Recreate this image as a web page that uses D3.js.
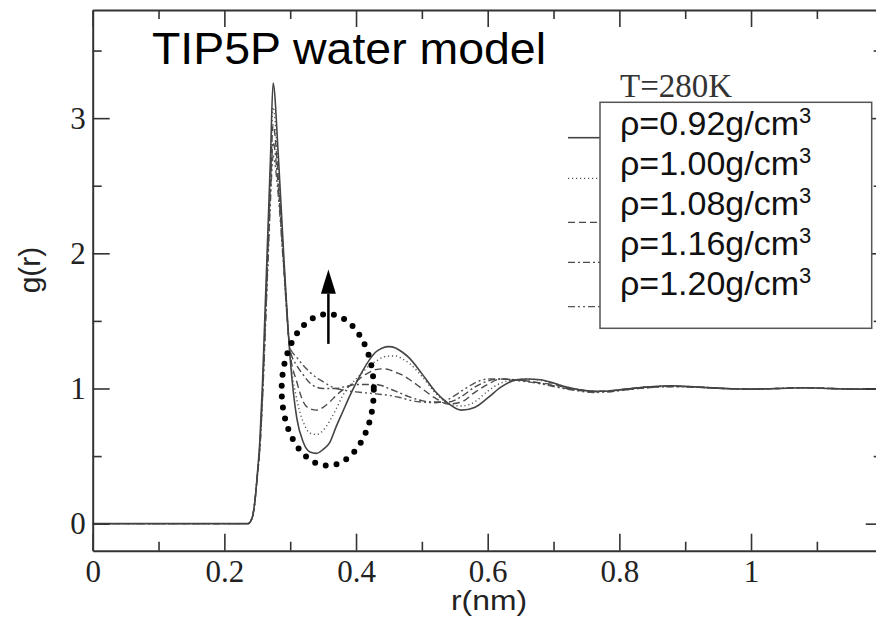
<!DOCTYPE html>
<html>
<head>
<meta charset="utf-8">
<script src="https://cdn.jsdelivr.net/npm/d3@7"></script>
<style>
  html, body { margin: 0; padding: 0; background: #fff; }
  svg { display: block; }
</style>
</head>
<body>
<div id="chart"></div>
<script>
// r (nm) sample positions shared by all curves
const rGrid = [0, 0.236, 0.242, 0.246, 0.25, 0.254, 0.258, 0.262, 0.266, 0.27, 0.274, 0.282, 0.29,
  0.30, 0.31, 0.32, 0.33, 0.34, 0.35, 0.36, 0.37, 0.38, 0.39, 0.40, 0.41, 0.42, 0.43, 0.44, 0.45,
  0.46, 0.47, 0.48, 0.50, 0.52, 0.54, 0.56, 0.58, 0.60, 0.62, 0.64, 0.66, 0.68, 0.70, 0.72, 0.74,
  0.76, 0.78, 0.80, 0.84, 0.88, 0.92, 0.96, 1.00, 1.04, 1.08, 1.12, 1.16, 1.20];

// g(r) for each density
const g092 = [0, 0, 0.04, 0.15, 0.36, 0.62, 1.05, 1.6, 2.15, 2.7, 3.26, 2.72, 2.0,
  1.22, 0.78, 0.6, 0.53, 0.52, 0.55, 0.6, 0.72, 0.83, 0.94, 1.04, 1.13, 1.21, 1.27, 1.3, 1.31,
  1.3, 1.27, 1.23, 1.11, 0.98, 0.89, 0.84, 0.86, 0.93, 1.01, 1.06, 1.07, 1.065, 1.04, 1.01, 0.99,
  0.98, 0.98, 0.99, 1.01, 1.02, 1.01, 1.0, 0.995, 1.0, 1.005, 1.0, 0.995, 1.0];
const g100 = [0, 0, 0.04, 0.15, 0.36, 0.6, 1.0, 1.52, 2.06, 2.6, 3.08, 2.62, 1.97,
  1.24, 0.92, 0.75, 0.67, 0.66, 0.69, 0.76, 0.85, 0.95, 1.02, 1.07, 1.12, 1.17, 1.2, 1.23, 1.24,
  1.24, 1.22, 1.19, 1.09, 0.97, 0.89, 0.87, 0.9, 0.98, 1.04, 1.065, 1.07, 1.06, 1.04, 1.01, 0.99,
  0.98, 0.98, 0.99, 1.01, 1.02, 1.01, 1.0, 0.995, 1.0, 1.005, 1.0, 0.995, 1.0];
const g108 = [0, 0, 0.04, 0.15, 0.35, 0.58, 0.97, 1.48, 2.0, 2.52, 2.95, 2.55, 1.94,
  1.26, 1.05, 0.9, 0.85, 0.84, 0.86, 0.9, 0.95, 0.99, 1.02, 1.05, 1.09, 1.12, 1.14, 1.145, 1.14,
  1.12, 1.1, 1.07, 1.0, 0.93, 0.885, 0.9, 0.97, 1.03, 1.07, 1.065, 1.055, 1.04, 1.03, 1.005, 0.99,
  0.98, 0.98, 0.99, 1.01, 1.015, 1.01, 1.0, 0.995, 1.0, 1.005, 1.0, 0.995, 1.0];
const g116 = [0, 0, 0.04, 0.15, 0.35, 0.57, 0.95, 1.44, 1.95, 2.45, 2.82, 2.48, 1.92,
  1.28, 1.17, 1.1, 1.04, 1.01, 1.0, 1.0, 1.0, 1.01, 1.02, 1.03, 1.03, 1.03, 1.03, 1.02, 1.0,
  0.98, 0.96, 0.94, 0.91, 0.9, 0.9, 0.94, 1.01, 1.055, 1.07, 1.065, 1.055, 1.04, 1.02, 1.0, 0.985,
  0.975, 0.975, 0.985, 1.005, 1.015, 1.01, 1.0, 0.995, 1.0, 1.005, 1.0, 0.995, 1.0];
const g120 = [0, 0, 0.04, 0.15, 0.35, 0.56, 0.93, 1.4, 1.9, 2.38, 2.72, 2.42, 1.9,
  1.3, 1.23, 1.17, 1.12, 1.08, 1.05, 1.02, 1.0, 0.99, 0.98, 0.975, 0.97, 0.965, 0.96, 0.955, 0.95,
  0.94, 0.93, 0.915, 0.9, 0.895, 0.92, 0.98, 1.04, 1.07, 1.07, 1.06, 1.05, 1.035, 1.015, 0.995, 0.98,
  0.97, 0.975, 0.985, 1.005, 1.015, 1.01, 1.0, 0.995, 1.0, 1.005, 1.0, 0.995, 1.0];

const seriesNames = ["ρ=0.92g/cm", "ρ=1.00g/cm", "ρ=1.08g/cm", "ρ=1.16g/cm", "ρ=1.20g/cm"];
const seriesValues = [g092, g100, g108, g116, g120];

const xTicks = [0, 0.2, 0.4, 0.6, 0.8, 1];
const xTickLabels = ["0", "0.2", "0.4", "0.6", "0.8", "1"];
const xMinorTicks = [0.1, 0.3, 0.5, 0.7, 0.9, 1.1];
const yTicks = [0, 1, 2, 3];
const yTickLabels = ["0", "1", "2", "3"];
const yMinorTicks = [0.5, 1.5, 2.5, 3.5];

const W = 876, H = 618;
const plotLeft = 92.7, plotRight = 882.7, plotTop = 10, plotBottom = 550.7;

const svg = d3.select("#chart").append("svg")
  .attr("width", W).attr("height", H);

const x = d3.scaleLinear().domain([0, 1.2]).range([plotLeft, plotRight]);
const y = d3.scaleLinear().domain([-0.2, 3.8]).range([plotBottom, plotTop]);

const dashes = [null, "1.2,2.8", "7,4", "7,3,2,3", "7,3,2,3,2,3"];
const strokes = ["#444", "#555", "#4a4a4a", "#4a4a4a", "#555"];

// curves
const line = d3.line()
  .x((d, i) => x(rGrid[i]))
  .y(d => y(d))
  .curve(d3.curveMonotoneX);

svg.append("clipPath").attr("id", "clip")
  .append("rect").attr("x", plotLeft).attr("y", plotTop)
  .attr("width", plotRight - plotLeft).attr("height", plotBottom - plotTop);

const plot = svg.append("g").attr("clip-path", "url(#clip)");
for (let i = seriesValues.length - 1; i >= 0; i--) {
  plot.append("path")
    .datum(seriesValues[i])
    .attr("d", line)
    .attr("fill", "none")
    .attr("stroke", strokes[i])
    .attr("stroke-width", i == 0 ? 1.6 : 1.4)
    .attr("stroke-dasharray", dashes[i]);
}

// axes, ticks inward on all four sides
function styleAxis(g) {
  g.select(".domain").attr("stroke", "#333").attr("stroke-width", 2);
  g.selectAll(".tick line").attr("stroke", "#333").attr("stroke-width", 1.6);
  g.selectAll(".tick text")
    .attr("font-family", "'Liberation Serif', 'Times New Roman', serif")
    .attr("font-size", 31)
    .attr("fill", "#222");
}

svg.append("g")
  .attr("transform", `translate(0,${plotBottom})`)
  .call(d3.axisBottom(x).tickValues(xTicks).tickSize(-17).tickSizeOuter(0)
    .tickFormat((d, i) => xTickLabels[i]))
  .call(styleAxis)
  .call(g => g.selectAll(".tick text").attr("y", 31).attr("dy", 0));
svg.append("g")
  .attr("transform", `translate(0,${plotBottom})`)
  .call(d3.axisBottom(x).tickValues(xMinorTicks).tickSize(-9).tickFormat(""))
  .call(styleAxis)
  .call(g => g.select(".domain").remove());

svg.append("g")
  .attr("transform", `translate(0,${plotTop})`)
  .call(d3.axisTop(x).tickValues(xTicks).tickSize(-17).tickSizeOuter(0).tickFormat(""))
  .call(styleAxis);
svg.append("g")
  .attr("transform", `translate(0,${plotTop})`)
  .call(d3.axisTop(x).tickValues(xMinorTicks).tickSize(-9).tickFormat(""))
  .call(styleAxis)
  .call(g => g.select(".domain").remove());

svg.append("g")
  .attr("transform", `translate(${plotLeft},0)`)
  .call(d3.axisLeft(y).tickValues(yTicks).tickSize(-17).tickSizeOuter(0).tickPadding(7)
    .tickFormat((d, i) => yTickLabels[i]))
  .call(styleAxis);
svg.append("g")
  .attr("transform", `translate(${plotLeft},0)`)
  .call(d3.axisLeft(y).tickValues(yMinorTicks).tickSize(-9).tickFormat(""))
  .call(styleAxis)
  .call(g => g.select(".domain").remove());

svg.append("g")
  .attr("transform", `translate(${plotRight},0)`)
  .call(d3.axisRight(y).tickValues(yTicks).tickSize(-17).tickSizeOuter(0).tickFormat(""))
  .call(styleAxis);
svg.append("g")
  .attr("transform", `translate(${plotRight},0)`)
  .call(d3.axisRight(y).tickValues(yMinorTicks).tickSize(-9).tickFormat(""))
  .call(styleAxis)
  .call(g => g.select(".domain").remove());

// axis titles
svg.append("text")
  .text("r(nm)")
  .attr("x", 489).attr("y", 610)
  .attr("text-anchor", "middle")
  .attr("font-family", "'Liberation Sans', Arial, sans-serif")
  .attr("font-size", 27)
  .attr("textLength", 76)
  .attr("lengthAdjust", "spacingAndGlyphs")
  .attr("fill", "#222");

svg.append("text")
  .text("g(r)")
  .attr("transform", "translate(40,270) rotate(-90)")
  .attr("text-anchor", "middle")
  .attr("font-family", "'Liberation Sans', Arial, sans-serif")
  .attr("font-size", 30)
  .attr("fill", "#222");

// title
svg.append("text")
  .text("TIP5P water model")
  .attr("x", 152).attr("y", 64)
  .attr("font-family", "'Liberation Sans', Arial, sans-serif")
  .attr("font-size", 45)
  .attr("textLength", 394)
  .attr("lengthAdjust", "spacingAndGlyphs")
  .attr("fill", "#000");

// legend
svg.append("text")
  .text("T=280K")
  .attr("x", 620).attr("y", 97)
  .attr("font-family", "'Liberation Serif', 'Times New Roman', serif")
  .attr("font-size", 33)
  .attr("fill", "#333");

const sampleY = [137.7, 178.3, 222.3, 262.3, 306.7];
const textY = [135, 175, 215, 255, 295];
seriesNames.forEach((name, i) => {
  svg.append("line")
    .attr("x1", 568).attr("x2", 600)
    .attr("y1", sampleY[i]).attr("y2", sampleY[i])
    .attr("stroke", strokes[i])
    .attr("stroke-width", i == 0 ? 1.6 : 1.3)
    .attr("stroke-dasharray", dashes[i]);
});

svg.append("rect")
  .attr("x", 600).attr("y", 102.3)
  .attr("width", 271.7).attr("height", 226)
  .attr("fill", "#fff")
  .attr("stroke", "#555")
  .attr("stroke-width", 1.5);

seriesNames.forEach((name, i) => {
  const t = svg.append("text")
    .attr("x", 620).attr("y", textY[i])
    .attr("font-family", "'Liberation Sans', Arial, sans-serif")
    .attr("font-size", 34)
    .attr("fill", "#111");
  t.append("tspan").text(name);
  t.append("tspan").text("3")
    .attr("font-size", 22)
    .attr("dy", -12);
});

// annotation: dotted ellipse and arrow
svg.append("ellipse")
  .attr("cx", x(0.357)).attr("cy", y(0.99))
  .attr("rx", x(0.07) - x(0)).attr("ry", y(0) - y(0.56))
  .attr("fill", "none")
  .attr("stroke", "#000")
  .attr("stroke-width", 6)
  .attr("stroke-linecap", "round")
  .attr("stroke-dasharray", "0,11");

const ax = x(0.358);
svg.append("line")
  .attr("x1", ax).attr("x2", ax)
  .attr("y1", y(1.33)).attr("y2", y(1.70))
  .attr("stroke", "#000").attr("stroke-width", 2.5);
svg.append("path")
  .attr("d", `M${ax},${y(1.88)} L${ax - 7.5},${y(1.70)} L${ax + 7.5},${y(1.70)} Z`)
  .attr("fill", "#000");
</script>
</body>
</html>
